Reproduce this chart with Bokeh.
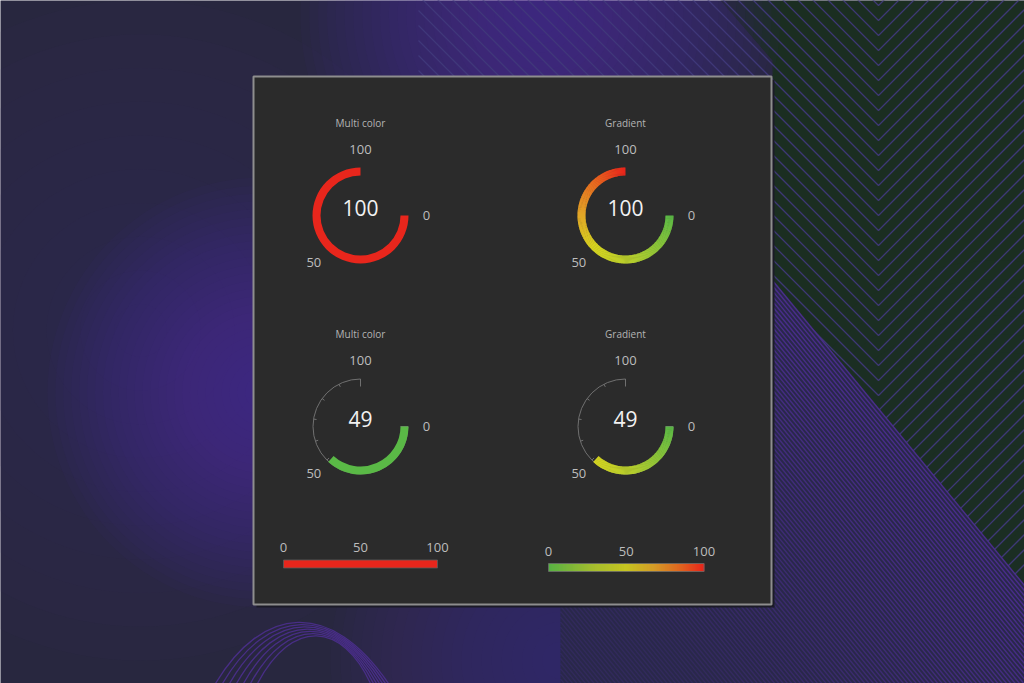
import numpy as np
from bokeh.plotting import figure
from bokeh.models import Range1d
from bokeh.embed import file_html
from bokeh.resources import INLINE
from bokeh.core.properties import value

W, H = 1024, 683

# ---------------- data ----------------
gauge_titles = ["Multi color", "Gradient", "Multi color", "Gradient"]
gauge_modes = ["multi", "gradient", "multi", "gradient"]
gauge_values = [100, 100, 49, 49]

scale_min, scale_max = 0, 100
scale_label_values = [0, 50, 100]
scale_labels = ["0", "50", "100"]
gauge_tick_step = 10

bar_modes = ["multi", "gradient"]
bar_values = [100, 100]

# colour ranges used by the "multi color" indicators: (upper limit, colour)
range_limits = [50, 100]
range_colors = ["#5ab946", "#e8261c"]

# colour stops used by the "gradient" indicators
grad_stops = [0.0, 0.3, 0.5, 0.68, 0.85, 1.0]
grad_colors = ["#5ab946", "#b4cd2e", "#d6d420", "#e2a427", "#e8661f", "#e8241b"]

# ---------------- layout (page pixels, y downwards) ----------------
gauge_centers = [(360, 215), (625, 215), (360, 426), (625, 426)]
R_OUT, R_IN = 48, 40
LABEL_R = 66
SWEEP = 270.0

bar_boxes = [(283, 437, 559.5, 567.5), (548, 703.5, 563, 571)]
bar_label_dy = [-12.5, -12.5]

FONT = value("Open Sans")


def Y(y):
    return H - np.asarray(y, dtype=float)


def hex_rgb(h):
    h = h.lstrip("#")
    return [int(h[i:i + 2], 16) for i in (0, 2, 4)]


_grad_rgb = np.array([hex_rgb(c) for c in grad_colors], dtype=float)


def grad_color(frac):
    r, g, b = (np.interp(frac, grad_stops, _grad_rgb[:, k]) for k in range(3))
    return "#%02x%02x%02x" % (int(round(r)), int(round(g)), int(round(b)))


def multi_color(v):
    for lim, col in zip(range_limits, range_colors):
        if v <= lim:
            return col
    return range_colors[-1]


def theta(v):
    # 0 sits at 3 o'clock, the scale runs clockwise through 270 degrees
    frac = (v - scale_min) / (scale_max - scale_min)
    return np.deg2rad(-frac * SWEEP)


p = figure(width=W, height=H, x_range=Range1d(0, W), y_range=Range1d(0, H),
           output_backend="svg", toolbar_location=None, min_border=0)
p.axis.visible = False
p.grid.visible = False
p.outline_line_color = None
p.background_fill_color = "#28273f"
p.border_fill_color = "#28273f"

# ---------------- backdrop ----------------
def glow(cx, cy, rmax, color, n=24, alpha=0.045):
    radii = np.linspace(rmax, rmax * 0.08, n)
    p.circle(x=[cx] * n, y=list(Y([cy] * n)), radius=list(radii),
             fill_color=color, fill_alpha=alpha, line_color=None)

glow(140, 330, 330, "#2e2a52", n=10, alpha=0.12)
glow(262, 392, 215, "#5226a0", n=26, alpha=0.05)
glow(560, 660, 230, "#4a2896", n=22, alpha=0.045)

# green wedge top right
gx = [720, 1024, 1024, 772, 772]
gy = [0, 0, 585, 280, 60]
p.patch(gx, list(Y(gy)), fill_color="#1b2e21", line_color=None)
glow(1000, 520, 260, "#24303a", n=14, alpha=0.06)
glow(540, 15, 240, "#4e2a94", n=26, alpha=0.05)

# chevron lines in the green wedge
VX = 878
L = 460
cx_list, cy_list = [], []
for vy in np.arange(-460, 720, 15.0):
    xs = [VX - L, VX, VX + L]
    ys = [vy - L, vy, vy - L]
    cx_list.append(xs)
    cy_list.append(list(Y(ys)))
p.multi_line(cx_list, cy_list, line_color="#40397a", line_width=1.3, line_alpha=0.95)

# purple stripes in the lower-right wedge
sx = [772, 1024, 1024, 560, 560]
sy = [280, 585, 683, 683, 280]
p.patch(sx, list(Y(sy)), fill_color="#29284a", line_color=None)
slope = (585 - 280) / (1024 - 772)
st_x, st_y, st_a = [], [], []
for d in np.arange(0, 900, 5.2):
    y772 = 280 + d
    if y772 < 604:
        x0 = 772
    else:
        x0 = max(560, 772 + (604 - y772) / slope)
    x1 = min(1024, 772 + (683 - y772) / slope)
    if x1 <= x0:
        continue
    st_x.append([x0, x1])
    st_y.append(list(Y([y772 + slope * (x0 - 772), y772 + slope * (x1 - 772)])))
    st_a.append(max(0.25, 0.95 - d / 700))
p.multi_line(st_x, st_y, line_color="#4c2e8f", line_width=1.4, line_alpha=st_a)

# curved lines at the bottom left
bx0, by0, bx1, by1, bcx0, bcy0, bcx1, bcy1 = [], [], [], [], [], [], [], []
for k in range(7):
    bx0.append(215 + k * 7); by0.append(H - 683)
    bcx0.append(262 + k * 5); bcy0.append(H - 605 - k * 2)
    bcx1.append(330 + k * 2); bcy1.append(H - 598 - k * 4)
    bx1.append(388 - k * 3); by1.append(H - 683)
p.bezier(x0=bx0, y0=by0, x1=bx1, y1=by1, cx0=bcx0, cy0=bcy0, cx1=bcx1, cy1=bcy1,
         line_color="#4d2f92", line_width=1.3, line_alpha=0.85)

# ---------------- panel ----------------
p.quad(left=256, right=774, top=float(Y(79)), bottom=float(Y(607)),
       fill_color="#1b1a27", line_color=None)
p.quad(left=253, right=771, top=float(Y(76)), bottom=float(Y(604)),
       fill_color="#2b2b2b", line_color="#8e8e8e", line_width=2)

LABEL_COLOR = "#bdbdbd"

# ---------------- circular gauges ----------------
for (cx, cy), title, mode, val in zip(gauge_centers, gauge_titles, gauge_modes, gauge_values):
    ycen = float(Y(cy))

    # background track with ticks for the unfilled part
    if val < scale_max:
        p.arc(x=[cx], y=[ycen], radius=R_OUT - 0.5, start_angle=theta(scale_max),
              end_angle=theta(scale_min), direction="anticlock",
              line_color="#707070", line_width=1)
        tv = np.arange(scale_min, scale_max + 1, gauge_tick_step)
        r_inner = np.where((tv == scale_max) | (tv == scale_min), R_IN, R_OUT - 3.5)
        ang = theta(tv)
        p.segment(x0=list(cx + (R_OUT - 0.5) * np.cos(ang)), y0=list(ycen + (R_OUT - 0.5) * np.sin(ang)),
                  x1=list(cx + r_inner * np.cos(ang)), y1=list(ycen + r_inner * np.sin(ang)),
                  line_color="#707070", line_width=1)

    # filled value arc
    if mode == "multi":
        p.annular_wedge(x=[cx], y=[ycen], inner_radius=R_IN, outer_radius=R_OUT,
                        start_angle=theta(val), end_angle=theta(scale_min),
                        direction="anticlock", fill_color=multi_color(val), line_color=None)
    else:
        n = max(2, int(val * 2))
        edges = np.linspace(scale_min, val, n + 1)
        mids = (edges[:-1] + edges[1:]) / 2
        cols = [grad_color((m - scale_min) / (scale_max - scale_min)) for m in mids]
        starts = theta(edges[1:])
        ends = theta(edges[:-1]) + np.deg2rad(0.6)
        ends[0] = theta(edges[0])
        p.annular_wedge(x=[cx] * n, y=[ycen] * n, inner_radius=R_IN, outer_radius=R_OUT,
                        start_angle=list(starts), end_angle=list(ends), direction="anticlock",
                        fill_color=cols, line_color=None)

    # scale labels around the ring
    la = theta(np.array(scale_label_values, dtype=float))
    p.text(x=list(cx + LABEL_R * np.cos(la)), y=list(ycen + LABEL_R * np.sin(la)),
           text=scale_labels, text_font=FONT, text_font_size="13px",
           text_color=LABEL_COLOR, text_align="center", text_baseline="middle")

    # value and title
    p.text(x=[cx], y=[ycen + 8], text=[str(val)], text_font=FONT, text_font_size="21px",
           text_color="#f2f2f2", text_align="center", text_baseline="middle")
    p.text(x=[cx], y=[ycen + 93], text=[title], text_font=FONT, text_font_size="10px",
           text_color="#b4b4b4", text_align="center", text_baseline="middle")

# ---------------- linear bars ----------------
for (x0, x1, yt, yb), mode, val, ldy in zip(bar_boxes, bar_modes, bar_values, bar_label_dy):
    frac = (val - scale_min) / (scale_max - scale_min)
    xe = x0 + (x1 - x0) * frac
    if mode == "multi":
        p.quad(left=x0, right=xe, top=float(Y(yt)), bottom=float(Y(yb)),
               fill_color=multi_color(val), line_color="#5a5a5a", line_width=0.8)
    else:
        n = int(round(xe - x0))
        xs = np.linspace(x0, xe, n + 1)
        fr = ((xs[:-1] + xs[1:]) / 2 - x0) / (x1 - x0)
        cols = [grad_color(f) for f in fr]
        p.quad(left=list(xs[:-1]), right=list(xs[1:] + 0.4), top=float(Y(yt)), bottom=float(Y(yb)),
               fill_color=cols, line_color=None)
        p.quad(left=x0, right=xe, top=float(Y(yt)), bottom=float(Y(yb)),
               fill_color=None, line_color="#6a6a6a", line_width=0.8)
    lx = [x0 + (x1 - x0) * (v - scale_min) / (scale_max - scale_min) for v in scale_label_values]
    p.text(x=lx, y=[float(Y(yt + ldy))] * len(lx), text=scale_labels, text_font=FONT,
           text_font_size="13px", text_color=LABEL_COLOR, text_align="center",
           text_baseline="middle")

open("out.html", "w").write(file_html(p, INLINE))
